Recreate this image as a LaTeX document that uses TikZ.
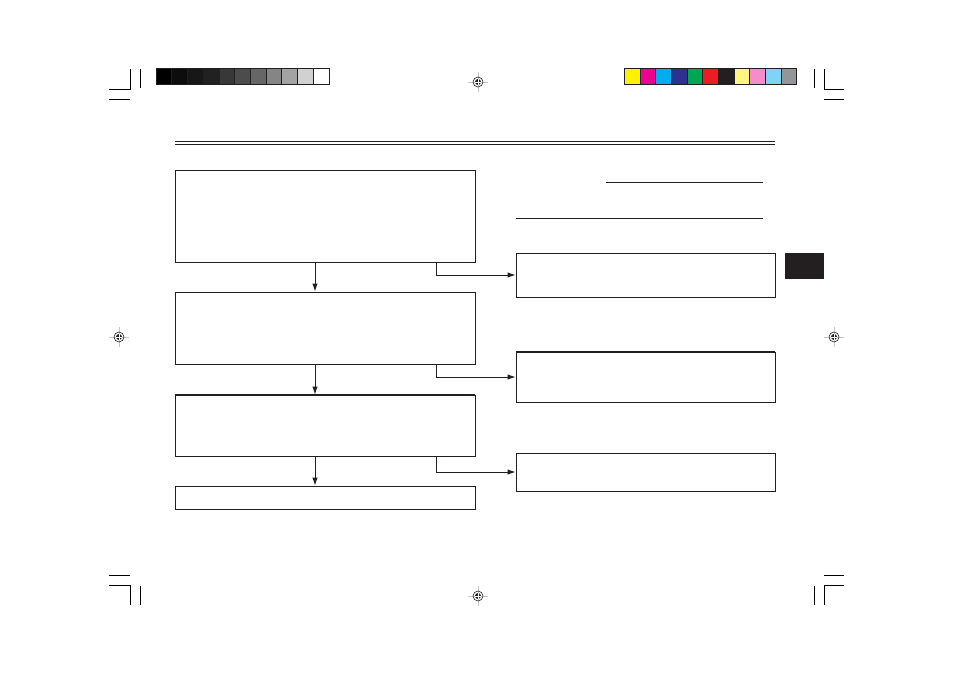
\documentclass[tikz,border=0pt]{standalone}
\usepackage{tikz}
\usetikzlibrary{arrows.meta,positioning}

\definecolor{ink}{RGB}{35,31,32}
\definecolor{pyellow}{RGB}{255,242,0}
\definecolor{pmagenta}{RGB}{236,0,140}
\definecolor{pcyan}{RGB}{0,174,239}
\definecolor{pblue}{RGB}{46,49,146}
\definecolor{pgreen}{RGB}{0,166,81}
\definecolor{pred}{RGB}{237,28,36}
\definecolor{plyellow}{RGB}{255,246,128}
\definecolor{ppink}{RGB}{246,140,202}
\definecolor{plblue}{RGB}{125,212,246}
\definecolor{pgray}{RGB}{147,149,152}

\begin{document}
\begin{tikzpicture}[x=1pt, y=-1pt,
        box/.style={draw=ink, line width=0.9pt, inner sep=0pt, minimum width=300pt},
        sidebox/.style={draw=ink, line width=0.9pt, inner sep=0pt, minimum width=259pt},
        flow/.style={draw=ink, line width=0.9pt, -{Latex[length=8pt, width=5.5pt]}},
        crop/.style={draw=black, line width=0.6pt}]
        \useasboundingbox[fill=white] (0, 0) rectangle (954, 674);

        % crop marks
        \draw[crop] (109, 89) -- (130.5, 89) -- (130.5, 69) (140.5, 69) -- (140.5, 88) (109, 99) -- (130, 99);
        \draw[crop] (844, 89) -- (824.5, 89) -- (824.5, 69) (814.5, 69) -- (814.5, 88) (844, 99) -- (824, 99);
        \draw[crop] (109, 585) -- (130.5, 585) -- (130.5, 605) (140.5, 586) -- (140.5, 605) (109, 575) -- (130, 575);
        \draw[crop] (844, 585) -- (824.5, 585) -- (824.5, 605) (814.5, 586) -- (814.5, 605) (844, 575) -- (824, 575);

        % colour bars
        \foreach \g [count=\i from 0] in {100, 95, 91, 87, 78, 70, 60, 48, 36, 18, 0}
                \filldraw[fill=black!\g, draw=ink, line width=0.8pt] (156 + \i*15.73, 68.5) rectangle (156 + \i*15.73 + 15.73, 84);
        \foreach \c [count=\i from 0] in {pyellow, pmagenta, pcyan, pblue, pgreen, pred, ink, plyellow, ppink, plblue, pgray}
                \filldraw[fill=\c, draw=ink, line width=0.8pt] (624.5 + \i*15.65, 68.5) rectangle (624.5 + \i*15.65 + 15.65, 84);

        % registration marks
        \foreach \x/\y in {478/82, 119/337, 834/337, 478/596} {
                \draw[gray!45, line width=0.6pt] (\x - 10, \y) -- (\x + 10, \y) (\x, \y - 10) -- (\x, \y + 10);
                \draw[ink, line width=0.6pt] (\x, \y) circle [radius=5];
                \fill[ink] (\x, \y) circle [radius=3];
                \draw[white, line width=0.6pt] (\x - 3, \y) -- (\x + 3, \y) (\x, \y - 3) -- (\x, \y + 3);
        }

        % header rules
        \draw[ink, line width=1.2pt] (175, 141.5) -- (775, 141.5);
        \draw[ink, line width=0.8pt] (175, 144.2) -- (775, 144.2);
        \draw[ink, line width=0.9pt] (606, 182.3) -- (763, 182.3);
        \draw[ink, line width=0.9pt] (516, 218.3) -- (763, 218.3);
        \node[fill=ink, minimum width=39pt, minimum height=26pt, inner sep=0pt] (tab) at (804.5, 266) {};

        % left column
        \node[box, minimum height=92pt] (check) at (325, 216) {};
        \node[box, minimum height=72pt] (inspect) at (325, 328) {};
        \node[box, minimum height=61pt] (adjust) at (325, 425.5) {};
        \node[box, minimum height=23pt] (finish) at (325, 497.5) {};
        \draw[ink, line width=1.6pt] (adjust.north west) -- (adjust.north east);

        % right column
        \node[sidebox, minimum height=44pt] (faultA) at (645.5, 275) {};
        \node[sidebox, minimum height=50pt] (faultB) at (645.5, 377) {};
        \node[sidebox, minimum height=38pt] (faultC) at (645.5, 472) {};
        \draw[ink, line width=1.6pt] (faultB.north west) -- (faultB.north east);

        % connectors
        \coordinate (down) at (315, 0);
        \coordinate (aside) at (436, 0);
        \draw[flow] (check.south -| down) -- (inspect.north -| down);
        \draw[flow] (inspect.south -| down) -- (adjust.north -| down);
        \draw[flow] (adjust.south -| down) -- (finish.north -| down);
        \draw[flow] (check.south -| aside) |- (faultA.west);
        \draw[flow] (inspect.south -| aside) |- (faultB.west);
        \draw[flow] (adjust.south -| aside) |- (faultC.west);
\end{tikzpicture}
\end{document}
